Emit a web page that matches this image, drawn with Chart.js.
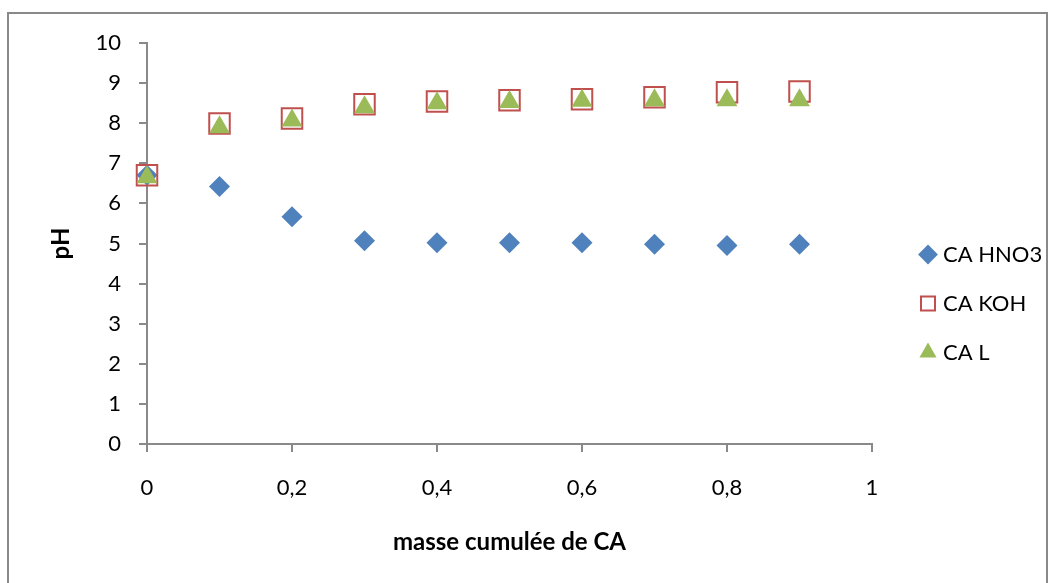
<!DOCTYPE html>
<html>
<head>
<meta charset="utf-8">
<script src="https://cdn.jsdelivr.net/npm/chart.js@4/dist/chart.umd.min.js"></script>
<style>
  html, body { margin: 0; padding: 0; background: #fff; overflow: hidden; }
  #wrap { position: relative; width: 1057px; height: 583px; }
  #frame { position: absolute; left: 7px; top: 12px; width: 1041px; height: 600px;
           border: 2px solid #898989; box-sizing: border-box; pointer-events: none; }
</style>
</head>
<body>
<div id="wrap">
  <canvas id="myChart" width="1057" height="583"></canvas>
  <div id="frame"></div>
</div>
<script>
// valeurs
const masse = [0, 0.1, 0.2, 0.3, 0.4, 0.5, 0.6, 0.7, 0.8, 0.9];
const phHNO3 = [6.70, 6.42, 5.67, 5.07, 5.02, 5.02, 5.02, 4.98, 4.95, 4.98];
const phKOH = [6.70, 7.99, 8.12, 8.47, 8.54, 8.57, 8.60, 8.65, 8.77, 8.79];
const phL = [6.65, 7.90, 8.07, 8.40, 8.50, 8.53, 8.56, 8.57, 8.57, 8.57];
const seriesNames = ['CA HNO3', 'CA KOH', 'CA L'];

const FONT = 'Lato, "Open Sans", sans-serif';
const GRAY = '#898989';

function pts(ys) {
  return masse.map(function (x, i) { return { x: x, y: ys[i] }; });
}

// fixe la place de la légende à droite
const legendPlace = {
  id: 'legendPlace',
  afterInit(chart) {
    const lg = chart.legend;
    const fit = lg.fit.bind(lg);
    lg.fit = function () { fit(); this.width = 185; };
  },
  afterLayout(chart) {
    const lg = chart.legend;
    lg.left = 897; lg.right = 1057;
    lg.top = 12; lg.bottom = 595;
  }
};

const data = {
  datasets: [{
    label: seriesNames[0],
    data: pts(phHNO3),
    pointStyle: 'rectRot',
    pointRadius: 10.5,
    pointHoverRadius: 10.5,
    backgroundColor: '#4F81BD',
    borderColor: '#4F81BD',
    borderWidth: 0,
    clip: false,
    order: 3
  }, {
    label: seriesNames[1],
    data: pts(phKOH),
    pointStyle: 'rect',
    pointRadius: 14.5,
    pointHoverRadius: 14.5,
    backgroundColor: 'rgba(255,255,255,0)',
    borderColor: '#C0504D',
    borderWidth: 2,
    clip: false,
    order: 2
  }, {
    label: seriesNames[2],
    data: pts(phL),
    pointStyle: 'triangle',
    pointRadius: 12,
    pointHoverRadius: 12,
    backgroundColor: '#9BBB59',
    borderColor: '#9BBB59',
    borderWidth: 0,
    clip: false,
    order: 1
  }]
};

const config = {
  type: 'scatter',
  data,
  plugins: [legendPlace],
  options: {
    responsive: false,
    animation: false,
    layout: { padding: { top: 43, left: 0, right: 0, bottom: 0 } },
    scales: {
      x: {
        type: 'linear',
        min: 0,
        max: 1,
        ticks: {
          stepSize: 0.2,
          padding: 23,
          color: '#000',
          font: { family: FONT, size: 22 },
          callback: function (v) { return String(Math.round(v * 10) / 10).replace('.', ','); }
        },
        grid: { drawOnChartArea: false, tickLength: 8, color: GRAY, lineWidth: 2 },
        border: { color: GRAY, width: 2 },
        title: {
          display: true,
          text: 'masse cumulée de CA',
          color: '#000',
          font: { family: FONT, size: 24, weight: 'bold' },
          padding: { top: 0, bottom: 26 }
        },
        afterFit(scale) { scale.height = 139; }
      },
      y: {
        min: 0,
        max: 10,
        ticks: {
          stepSize: 1,
          padding: 18,
          color: '#000',
          font: { family: FONT, size: 22 }
        },
        grid: { drawOnChartArea: false, tickLength: 8, color: GRAY, lineWidth: 2 },
        border: { color: GRAY, width: 2 },
        title: {
          display: true,
          text: 'pH',
          color: '#000',
          font: { family: FONT, size: 24, weight: 'bold' },
          padding: { top: 47, bottom: 0 }
        },
        afterFit(scale) { scale.width = 147; }
      }
    },
    plugins: {
      tooltip: { enabled: false },
      legend: {
        position: 'right',
        labels: {
          usePointStyle: true,
          boxWidth: 8,
          boxHeight: 14,
          padding: 27,
          color: '#000',
          font: { family: FONT, size: 22 },
          sort: function (a, b) { return a.datasetIndex - b.datasetIndex; }
        }
      }
    }
  }
};

const myChart = new Chart(document.getElementById('myChart'), config);
</script>
</body>
</html>
